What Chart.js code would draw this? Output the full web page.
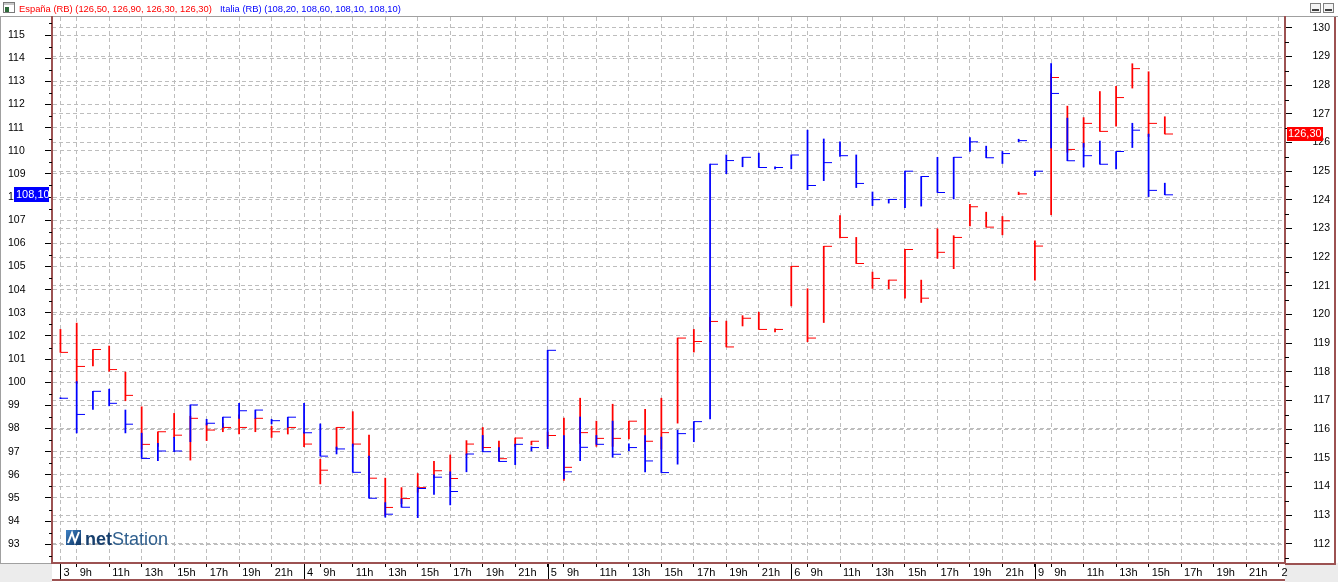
<!DOCTYPE html>
<html>
<head>
<meta charset="utf-8">
<title>España / Italia (RB)</title>
<script src="https://cdn.jsdelivr.net/npm/chart.js@4.4.1/dist/chart.umd.min.js"></script>
<style>
  html, body { margin: 0; padding: 0; background: #ffffff; overflow: hidden; }
  #wrap { position: relative; width: 1338px; height: 582px; }
</style>
</head>
<body>
<div id="wrap"><canvas id="chart" width="1338" height="582"></canvas></div>
<script>
// ---- data: one bar per hour, 8h..22h, 15 slots per day ----
const days = ['3', '4', '5', '6', '9'];

const xTickSlots = [0, 1, 3, 5, 7, 9, 11, 13,
                    15, 16, 18, 20, 22, 24, 26, 28,
                    30, 31, 33, 35, 37, 39, 41, 43,
                    45, 46, 48, 50, 52, 54, 56, 58,
                    60, 61, 63, 65, 67, 69, 71, 73, 75];
const xTickLabels = ['3', '9h', '11h', '13h', '15h', '17h', '19h', '21h',
                     '4', '9h', '11h', '13h', '15h', '17h', '19h', '21h',
                     '5', '9h', '11h', '13h', '15h', '17h', '19h', '21h',
                     '6', '9h', '11h', '13h', '15h', '17h', '19h', '21h',
                     '9', '9h', '11h', '13h', '15h', '17h', '19h', '21h', '2'];
const leftTicks = [93, 94, 95, 96, 97, 98, 99, 100, 101, 102, 103, 104,
                   105, 106, 107, 108, 109, 110, 111, 112, 113, 114, 115];
const rightTicks = [112, 113, 114, 115, 116, 117, 118, 119, 120, 121,
                    122, 123, 124, 125, 126, 127, 128, 129, 130];

// España (right axis)
const esHigh = [119.48, 119.70, 118.78, 118.90, 117.99, 116.78, 115.91, 116.55, 116.45, 116.20,
                116.20, 116.50, 116.38, 116.10, 116.06, 115.90, 114.95, 116.06, 116.61, 115.79,
                114.29, 113.96, 114.45, 114.88, 115.10, 115.60, 116.06, 115.58, 115.69, 115.58,
                115.90, 116.39, 117.08, 116.28, 116.87, 116.28, 116.69, 117.08, 119.18, 119.48,
                119.90, 119.77, 119.96, 120.08, 119.50, 121.68, 120.90, 122.38, 123.45, 122.69,
                121.48, 121.20, 122.27, 121.20, 122.99, 122.75, 123.84, 123.57, 123.42, 124.27,
                122.57, 128.40, 127.27, 126.87, 127.78, 127.96, 128.75, 128.47, 126.90];
const esLow = [118.68, 117.60, 118.21, 118.02, 116.99, 115.30, 115.40, 115.71, 114.92, 115.60,
               115.91, 115.83, 115.91, 115.71, 115.83, 115.39, 114.09, 115.30, 115.40, 114.10,
               113.00, 113.40, 113.80, 114.30, 114.00, 115.10, 115.30, 114.90, 115.40, 115.45,
               115.40, 114.21, 115.50, 115.40, 115.40, 115.66, 115.30, 115.30, 116.21, 118.69,
               119.40, 118.87, 119.60, 119.48, 119.39, 120.30, 119.05, 119.72, 122.67, 121.78,
               120.91, 120.90, 120.57, 120.42, 121.96, 121.60, 123.09, 123.05, 122.78, 124.18,
               121.20, 123.48, 125.66, 125.84, 126.39, 126.57, 127.90, 126.21, 126.30];
const esClose = [118.68, 118.19, 118.78, 118.08, 117.18, 115.47, 115.91, 115.79, 116.38, 115.97,
                 116.06, 116.06, 116.38, 115.91, 116.06, 115.48, 114.57, 116.06, 115.48, 114.29,
                 113.27, 113.58, 113.96, 114.55, 114.28, 115.48, 115.36, 114.97, 115.69, 115.58,
                 115.78, 114.67, 115.88, 115.68, 115.68, 116.28, 115.58, 115.88, 119.18, 119.06,
                 119.76, 118.87, 119.87, 119.48, 119.48, 121.68, 119.18, 122.38, 122.69, 121.78,
                 121.26, 121.20, 122.27, 120.57, 122.17, 122.69, 123.76, 123.05, 123.27, 124.21,
                 122.39, 128.27, 125.76, 126.67, 126.39, 127.57, 128.58, 126.67, 126.30];

// Italia (left axis)
const itHigh = [99.33, 100.03, 99.61, 99.70, 98.80, 97.80, 97.36, 97.62, 99.02, 98.40,
                98.49, 99.09, 98.80, 98.40, 98.49, 99.09, 98.20, 97.20, 97.33, 96.81,
                94.80, 94.96, 95.45, 96.00, 96.13, 96.90, 97.70, 97.18, 97.32, 97.21,
                101.38, 97.70, 98.50, 97.70, 98.32, 97.34, 97.70, 97.63, 97.93, 98.30,
                109.42, 109.82, 109.72, 109.90, 109.31, 109.82, 110.89, 110.51, 110.39, 109.82,
                108.22, 107.90, 109.12, 108.89, 109.72, 109.72, 110.57, 110.20, 109.97, 110.50,
                109.12, 113.77, 111.41, 110.32, 110.42, 109.97, 111.19, 110.72, 108.60];
const itLow = [99.29, 97.81, 98.83, 98.98, 97.81, 96.71, 96.61, 97.00, 97.43, 98.15,
               98.05, 98.44, 98.44, 98.20, 98.05, 97.80, 96.81, 96.90, 96.11, 94.99,
               94.17, 94.60, 94.15, 95.15, 94.70, 96.13, 97.00, 96.58, 96.44, 97.03,
               97.13, 95.83, 96.61, 97.32, 96.76, 97.04, 96.13, 96.10, 96.46, 97.43,
               98.41, 109.01, 109.31, 109.28, 109.22, 109.22, 108.32, 108.71, 109.76, 108.41,
               107.63, 107.74, 107.54, 107.61, 108.20, 107.92, 109.97, 109.70, 109.45, 110.39,
               108.92, 110.12, 109.57, 109.30, 109.42, 109.22, 110.14, 108.02, 108.10];
const itClose = [99.31, 98.61, 99.61, 99.09, 98.19, 96.71, 97.03, 97.03, 99.02, 98.23,
                 98.49, 98.77, 98.80, 98.34, 98.49, 97.82, 96.81, 97.12, 96.11, 94.99,
                 94.30, 94.60, 95.41, 95.90, 95.28, 96.90, 97.00, 96.58, 97.32, 97.18,
                 101.38, 96.13, 97.19, 97.32, 96.89, 97.18, 96.60, 96.10, 97.78, 98.30,
                 109.42, 109.58, 109.72, 109.28, 109.28, 109.82, 108.50, 109.49, 109.79, 108.59,
                 107.89, 107.90, 109.12, 108.89, 108.20, 109.72, 110.39, 109.70, 109.88, 110.44,
                 109.12, 112.48, 109.57, 109.79, 109.42, 109.97, 110.89, 108.29, 108.10];

const esHeader = 'España (RB) (126,50, 126,90, 126,30, 126,30)';
const itHeader = 'Italia (RB) (108,20, 108,60, 108,10, 108,10)';

// ---- styling ----
const FONT = '"Liberation Sans", Arial, sans-serif';
const RED = '#ff0000';
const BLUE = '#0000ff';
const GRID = '#bdbdbd';
const AXIS = '#9c5252';
const DASH = [4, 3];

const slots = esHigh.map((_, i) => i);
const daySlots = xTickSlots.filter((s, i) => days.includes(xTickLabels[i]));

// close tick: small horizontal stroke to the right of the bar
function tickCanvas(color) {
    const c = document.createElement('canvas');
    c.width = 16;
    c.height = 3;
    const g = c.getContext('2d');
    g.fillStyle = color;
    g.fillRect(8, 1, 8, 1);
    return c;
}

function fmt(v) {
    return v.toFixed(2).replace('.', ',');
}

const frame = {
    id: 'frame',
    beforeDraw(chart) {
        const ctx = chart.ctx, a = chart.chartArea, W = chart.width, H = chart.height;
        ctx.save();
        ctx.fillStyle = '#ffffff';
        ctx.fillRect(0, 0, W, H);
        // grey corners under the y axes
        ctx.fillStyle = '#ececec';
        ctx.fillRect(0, a.bottom, a.left, H - a.bottom);
        ctx.fillRect(a.right, a.bottom, W - a.right, H - a.bottom);
        // outer lines
        ctx.strokeStyle = '#a0a0a0';
        ctx.lineWidth = 1;
        ctx.beginPath();
        ctx.moveTo(0, a.top - 0.5); ctx.lineTo(W, a.top - 0.5);
        ctx.moveTo(0.5, a.top); ctx.lineTo(0.5, a.bottom);
        ctx.moveTo(0, a.bottom + 0.5); ctx.lineTo(a.left, a.bottom + 0.5);
        ctx.stroke();
        ctx.restore();
    },
    beforeDatasetsDraw(chart) {
        // netStation logo
        const ctx = chart.ctx, a = chart.chartArea;
        const x = a.left + 14, y = a.bottom - 33;
        ctx.save();
        const g = ctx.createLinearGradient(x, y, x + 15, y + 15);
        g.addColorStop(0, '#3f83c6');
        g.addColorStop(1, '#0e3463');
        ctx.fillStyle = g;
        ctx.fillRect(x, y, 15, 15);
        ctx.strokeStyle = '#ffffff';
        ctx.lineWidth = 2;
        ctx.beginPath();
        ctx.moveTo(x + 2, y + 13);
        ctx.lineTo(x + 6, y + 3);
        ctx.lineTo(x + 9, y + 12);
        ctx.lineTo(x + 13, y + 2);
        ctx.stroke();
        ctx.textBaseline = 'alphabetic';
        ctx.font = 'bold 18px ' + FONT;
        ctx.fillStyle = '#173f6d';
        ctx.fillText('net', x + 19, y + 15);
        const w = ctx.measureText('net').width;
        ctx.font = '18px ' + FONT;
        ctx.fillStyle = '#2f5f8e';
        ctx.fillText('Station', x + 19 + w, y + 15);
        ctx.restore();
    },
    afterDraw(chart) {
        const ctx = chart.ctx, a = chart.chartArea, W = chart.width;
        const xs = chart.scales.x, yl = chart.scales.y, yr = chart.scales.y2;
        ctx.save();
        // day separators through the time strip
        ctx.strokeStyle = '#000000';
        ctx.lineWidth = 1;
        ctx.beginPath();
        daySlots.forEach(s => {
            const px = Math.round(xs.getPixelForValue(s)) + 0.5;
            ctx.moveTo(px, a.bottom + 1);
            ctx.lineTo(px, a.bottom + 17);
        });
        // minor ticks at half units
        leftTicks.concat([92]).forEach(v => {
            const py = Math.round(yl.getPixelForValue(v + 0.5)) + 0.5;
            if (py > a.top && py < a.bottom) { ctx.moveTo(a.left - 3, py); ctx.lineTo(a.left, py); }
        });
        rightTicks.concat([111]).forEach(v => {
            const py = Math.round(yr.getPixelForValue(v + 0.5)) + 0.5;
            if (py > a.top && py < a.bottom) { ctx.moveTo(a.right, py); ctx.lineTo(a.right + 4, py); }
        });
        ctx.stroke();
        // strip bottom and right frame
        ctx.strokeStyle = AXIS;
        ctx.lineWidth = 2;
        ctx.beginPath();
        ctx.moveTo(a.left, a.bottom + 17);
        ctx.lineTo(a.right, a.bottom + 17);
        ctx.moveTo(a.right, a.bottom + 1);
        ctx.lineTo(W - 3, a.bottom + 1);
        ctx.moveTo(W - 3, a.top);
        ctx.lineTo(W - 3, a.bottom + 2);
        ctx.stroke();

        // last value boxes
        ctx.font = '11px ' + FONT;
        ctx.textBaseline = 'middle';
        const iy = yl.getPixelForValue(itClose[itClose.length - 1]);
        ctx.fillStyle = BLUE;
        ctx.fillRect(a.left - 38, Math.round(iy) - 8, 35, 15);
        ctx.fillStyle = '#ffffff';
        ctx.fillText(fmt(itClose[itClose.length - 1]), a.left - 36, Math.round(iy));
        const ry = yr.getPixelForValue(esClose[esClose.length - 1]);
        ctx.fillStyle = RED;
        ctx.fillRect(a.right + 2, Math.round(ry) - 7, 36, 14);
        ctx.fillStyle = '#ffffff';
        ctx.fillText(fmt(esClose[esClose.length - 1]), a.right + 3, Math.round(ry));

        // header line
        ctx.fillStyle = '#ffffff';
        ctx.strokeStyle = '#7a7a7a';
        ctx.lineWidth = 1;
        ctx.strokeRect(3.5, 2.5, 11, 10);
        ctx.fillStyle = '#2e6b3a';
        ctx.fillRect(5, 7, 4, 5);
        ctx.fillStyle = '#c8c8c8';
        ctx.fillRect(4, 3, 10, 2);
        ctx.font = '9.4px ' + FONT;
        ctx.textBaseline = 'alphabetic';
        ctx.fillStyle = RED;
        ctx.fillText(esHeader, 19, 11.5);
        ctx.fillStyle = BLUE;
        ctx.fillText(itHeader, 220, 11.5);
        // window buttons
        [W - 28, W - 15].forEach(bx => {
            ctx.fillStyle = '#f4f4f4';
            ctx.fillRect(bx, 3, 11, 10);
            ctx.strokeStyle = '#808080';
            ctx.strokeRect(bx + 0.5, 3.5, 10, 9);
            ctx.fillStyle = '#404040';
            ctx.fillRect(bx + 2, 9, 7, 2);
        });
        ctx.restore();
    }
};

const yGrid = { color: GRID, lineWidth: 1, tickColor: '#000000', tickLength: 7 };
const yBorder = { color: AXIS, width: 2, dash: DASH };

new Chart(document.getElementById('chart'), {
    type: 'bar',
    data: {
        datasets: [
            {
                type: 'line',
                label: 'Italia close',
                data: slots.map(i => ({ x: i, y: itClose[i] })),
                yAxisID: 'y',
                showLine: false,
                pointStyle: tickCanvas(BLUE),
                pointRadius: 4,
                order: 1
            },
            {
                type: 'bar',
                label: 'Italia',
                data: slots.map(i => ({ x: i, y: [itLow[i], itHigh[i]] })),
                yAxisID: 'y',
                backgroundColor: BLUE,
                barThickness: 1.1,
                grouped: false,
                order: 2
            },
            {
                type: 'line',
                label: 'España close',
                data: slots.map(i => ({ x: i, y: esClose[i] })),
                yAxisID: 'y2',
                showLine: false,
                pointStyle: tickCanvas(RED),
                pointRadius: 4,
                order: 3
            },
            {
                type: 'bar',
                label: 'España',
                data: slots.map(i => ({ x: i, y: [esLow[i], esHigh[i]] })),
                yAxisID: 'y2',
                backgroundColor: RED,
                barThickness: 1.1,
                grouped: false,
                order: 4
            }
        ]
    },
    options: {
        responsive: false,
        animation: false,
        events: [],
        layout: { padding: { left: 8, top: 17, right: 8, bottom: 0 }, autoPadding: false },
        plugins: { legend: { display: false }, tooltip: { enabled: false } },
        scales: {
            x: {
                type: 'linear',
                min: -0.52,
                max: 75.4,
                bounds: 'data',
                offset: false,
                afterBuildTicks: s => { s.ticks = xTickSlots.map(v => ({ value: v })); },
                afterFit: s => { s.height = 19; },
                grid: { color: GRID, lineWidth: 1, tickColor: '#000000', tickLength: 4, offset: false },
                border: { color: AXIS, width: 2, dash: DASH },
                ticks: {
                    autoSkip: false,
                    maxRotation: 0,
                    align: 'start',
                    padding: -1,
                    color: '#000000',
                    font: { family: FONT, size: 11 },
                    callback: (v, i) => ' ' + xTickLabels[i]
                }
            },
            y: {
                position: 'left',
                min: 92.19,
                max: 115.78,
                bounds: 'data',
                afterBuildTicks: s => { s.ticks = leftTicks.map(v => ({ value: v })); },
                afterFit: s => { s.width = 44; },
                grid: yGrid,
                border: yBorder,
                ticks: { crossAlign: 'far', color: '#000000', font: { family: FONT, size: 10.5 }, callback: v => String(v) }
            },
            y2: {
                position: 'right',
                min: 111.33,
                max: 130.38,
                bounds: 'data',
                afterBuildTicks: s => { s.ticks = rightTicks.map(v => ({ value: v })); },
                afterFit: s => { s.width = 45; },
                grid: yGrid,
                border: yBorder,
                ticks: { crossAlign: 'far', color: '#000000', font: { family: FONT, size: 10.5 }, callback: v => String(v) }
            }
        }
    },
    plugins: [frame]
});
</script>
</body>
</html>
